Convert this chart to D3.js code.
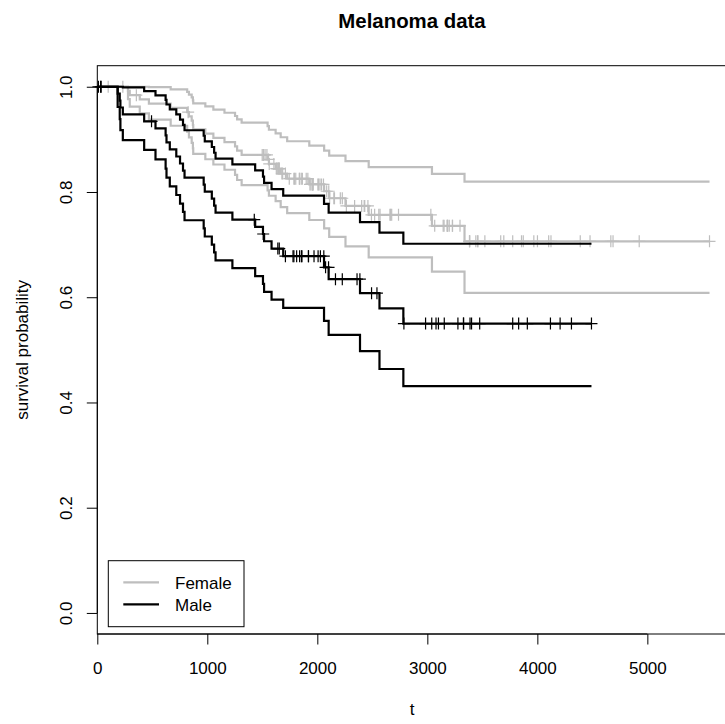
<!DOCTYPE html>
<html>
<head>
<meta charset="utf-8">
<script src="https://cdn.jsdelivr.net/npm/d3@7"></script>
<style>
  html, body { margin: 0; padding: 0; background: #ffffff; }
  svg { display: block; }
  text { font-family: "Liberation Sans", Arial, Helvetica, sans-serif; fill: #000; }
</style>
</head>
<body>
<svg id="chart" width="725" height="724"></svg>
<script>
// Kaplan-Meier survival estimates (melanoma deaths) with 95% log-type confidence limits.
// Each curve is a right-continuous step function: value holds from its time to the next.

// Female group
const femaleTimes = [0, 279, 295, 386, 469, 667, 817, 833, 858, 869, 872, 982, 1055, 1156, 1252,
  1271, 1312, 1548, 1560, 1621, 1667, 1726, 1927, 2062, 2108, 2256, 2467, 3042, 3338];
const femaleSurv = [1, 0.99200, 0.98400, 0.97593, 0.96787, 0.95981, 0.95174, 0.94361, 0.93547,
  0.92734, 0.91920, 0.91107, 0.90294, 0.89480, 0.88667, 0.87853, 0.87040, 0.86187, 0.85325,
  0.84445, 0.83507, 0.82536, 0.81436, 0.80143, 0.78807, 0.77348, 0.75666, 0.73564, 0.70622];
const femaleUpper = [1, 1, 1, 1, 0.99935, 0.99496, 0.99017, 0.98508, 0.97974, 0.97421, 0.96850,
  0.96265, 0.95668, 0.95058, 0.94439, 0.93809, 0.93173, 0.92508, 0.91829, 0.91133, 0.90399,
  0.89638, 0.88806, 0.87878, 0.86908, 0.85867, 0.84720, 0.83425, 0.81976];
const femaleLower = [1, 0.97651, 0.96225, 0.94939, 0.93738, 0.92590, 0.91480, 0.90388, 0.89320,
  0.88272, 0.87241, 0.86225, 0.85222, 0.84230, 0.83248, 0.82275, 0.81311, 0.80298, 0.79282,
  0.78248, 0.77141, 0.75996, 0.74677, 0.73088, 0.71461, 0.69674, 0.67580, 0.64869, 0.60841];
const femaleLastTime = 5565;
const femaleCensored = [99, 232, 355, 826, 1499, 1510, 1512, 1525, 1542, 1557, 1563, 1605, 1627,
  1634, 1641, 1648, 1652, 1654, 1678, 1685, 1710, 1745, 1787, 1793, 1804, 1836, 1839, 1854, 1864,
  1899, 1914, 1933, 1942, 1955, 1956, 1958, 1963, 2005, 2011, 2024, 2038, 2056, 2085, 2104, 2112,
  2150, 2156, 2209, 2227, 2264, 2339, 2403, 2426, 2431, 2460, 2492, 2521, 2559, 2570, 2660, 2666,
  2676, 2738, 3032, 3067, 3144, 3152, 3180, 3182, 3185, 3199, 3228, 3229, 3297, 3383, 3384, 3385,
  3441, 3458, 3459, 3523, 3667, 3695, 3776, 3856, 3872, 3968, 4001, 4103, 4124, 4390, 4479, 4668,
  4688, 4926, 5565];

// Male group
const maleTimes = [0, 185, 204, 210, 232, 426, 529, 621, 629, 659, 718, 752, 779, 793, 967, 977,
  1041, 1062, 1075, 1228, 1435, 1506, 1516, 1584, 1690, 2061, 2103, 2388, 2565, 2782];
const maleSurv = [1, 0.98684, 0.97368, 0.96053, 0.94737, 0.93421, 0.92086, 0.90751, 0.89417,
  0.88082, 0.86748, 0.85413, 0.84079, 0.82744, 0.81410, 0.80075, 0.78741, 0.77406, 0.76072,
  0.74737, 0.73378, 0.72019, 0.70634, 0.69249, 0.67807, 0.65688, 0.63423, 0.60780, 0.57886, 0.54992];
const maleUpper = [1, 1, 1, 1, 0.99893, 0.99164, 0.98368, 0.97519, 0.96629, 0.95703, 0.94748,
  0.93766, 0.92761, 0.91735, 0.90692, 0.89630, 0.88553, 0.87460, 0.86355, 0.85236, 0.84092,
  0.82934, 0.81751, 0.80555, 0.79315, 0.77756, 0.76094, 0.74262, 0.72275, 0.70168];
const maleLower = [1, 0.96155, 0.93836, 0.91774, 0.89848, 0.88010, 0.86205, 0.84453, 0.82743,
  0.81068, 0.79424, 0.77805, 0.76209, 0.74634, 0.73078, 0.71538, 0.70016, 0.68508, 0.67013,
  0.65531, 0.64029, 0.62540, 0.61029, 0.59530, 0.57969, 0.55493, 0.52862, 0.49746, 0.46362, 0.43098];
const maleLastTime = 4492;
const maleCensored = [10, 30, 35, 493, 1427, 1508, 1641, 1654, 1710, 1779, 1787, 1812, 1839, 1856,
  1860, 1919, 1920, 1970, 2007, 2028, 2059, 2075, 2102, 2165, 2227, 2361, 2387, 2493, 2542, 2787,
  2984, 3040, 3079, 3101, 3154, 3278, 3328, 3330, 3388, 3402, 3476, 3776, 3830, 3909, 4119, 4207,
  4310, 4492];

// Axis ticks and labels
const xTicks = [0, 1000, 2000, 3000, 4000, 5000];
const yTicks = [0, 0.2, 0.4, 0.6, 0.8, 1.0];
const legendLabels = ["Female", "Male"];
const groupColors = ["#bebebe", "#000000"];
const titleText = "Melanoma data";
const xLabel = "t";
const yLabel = "survival probability";

// ---- layout ----
const svg = d3.select("#chart");
const plot = { left: 97.3, right: 734, top: 65.7, bottom: 634 };
const xMax = femaleLastTime * 1.04;

const x = d3.scaleLinear().domain([0, xMax]).range([plot.left, plot.right]);
const y = d3.scaleLinear().domain([-0.04, 1.04]).range([plot.bottom, plot.top]);

const stepLine = d3.line()
  .x(d => x(d[0]))
  .y(d => y(d[1]))
  .curve(d3.curveStepAfter);

function stepPoints(times, values, lastTime) {
  const pts = times.map((t, i) => [t, values[i]]);
  pts.push([lastTime, values[values.length - 1]]);
  return pts;
}

function valueAt(times, values, t) {
  const i = d3.bisectRight(times, t) - 1;
  return values[Math.max(0, i)];
}

const groups = [
  { times: femaleTimes, surv: femaleSurv, upper: femaleUpper, lower: femaleLower,
    last: femaleLastTime, censored: femaleCensored, color: groupColors[0] },
  { times: maleTimes, surv: maleSurv, upper: maleUpper, lower: maleLower,
    last: maleLastTime, censored: maleCensored, color: groupColors[1] }
];

const curves = svg.append("g").attr("class", "curves");

groups.forEach(g => {
  const gg = curves.append("g");
  [g.upper, g.lower, g.surv].forEach(vals => {
    gg.append("path")
      .attr("d", stepLine(stepPoints(g.times, vals, g.last)))
      .attr("fill", "none")
      .attr("stroke", g.color)
      .attr("stroke-width", 2.2)
      .attr("stroke-linejoin", "miter")
      .attr("stroke-linecap", "butt");
  });
  // censoring marks on the estimate
  const half = 6;
  gg.selectAll("path.mark")
    .data(g.censored)
    .join("path")
    .attr("class", "mark")
    .attr("d", t => {
      const px = x(t), py = y(valueAt(g.times, g.surv, t));
      return `M${px - half},${py}H${px + half}M${px},${py - half}V${py + half}`;
    })
    .attr("fill", "none")
    .attr("stroke", g.color)
    .attr("stroke-width", 1.2);
});

// plot frame
svg.append("rect")
  .attr("x", plot.left).attr("y", plot.top)
  .attr("width", plot.right - plot.left).attr("height", plot.bottom - plot.top)
  .attr("fill", "none").attr("stroke", "#000").attr("stroke-width", 1);

// x axis
const xAxis = d3.axisBottom(x).tickValues(xTicks).tickSize(10.5).tickPadding(17.5)
  .tickFormat(d3.format("d"));
const gx = svg.append("g").attr("transform", `translate(0,${plot.bottom})`).call(xAxis);
gx.select(".domain").attr("d", `M${x(xTicks[0])},0H${x(xTicks[xTicks.length - 1])}`);
gx.selectAll("text").attr("font-size", 17).attr("font-family", null);
gx.selectAll("line").attr("stroke", "#000");

// y axis
const yAxis = d3.axisLeft(y).tickValues(yTicks).tickSize(10.5).tickFormat(d3.format(".1f"));
const gy = svg.append("g").attr("transform", `translate(${plot.left},0)`).call(yAxis);
gy.select(".domain").attr("d", `M0,${y(yTicks[0])}V${y(yTicks[yTicks.length - 1])}`);
gy.selectAll("line").attr("stroke", "#000");
gy.selectAll(".tick text")
  .attr("x", null).attr("dy", null)
  .attr("transform", `translate(${71.5 - plot.left},0) rotate(-90)`)
  .attr("text-anchor", "middle")
  .attr("font-size", 17).attr("font-family", null);
svg.selectAll(".tick text").style("fill", "#000");

// titles
svg.append("text")
  .attr("x", 412).attr("y", 28)
  .attr("text-anchor", "middle")
  .attr("font-size", 20.4).attr("font-weight", "bold")
  .text(titleText);
svg.append("text")
  .attr("x", 412).attr("y", 715)
  .attr("text-anchor", "middle")
  .attr("font-size", 17)
  .text(xLabel);
svg.append("text")
  .attr("transform", `translate(28,${(plot.top + plot.bottom) / 2}) rotate(-90)`)
  .attr("text-anchor", "middle")
  .attr("font-size", 17)
  .text(yLabel);

// legend
const legend = svg.append("g");
legend.append("rect")
  .attr("x", 108.3).attr("y", 560.7).attr("width", 135.7).attr("height", 66)
  .attr("fill", "#fff").attr("stroke", "#000").attr("stroke-width", 1);
legendLabels.forEach((lab, i) => {
  const ly = 582.3 + i * 22;
  legend.append("line")
    .attr("x1", 123.3).attr("x2", 159).attr("y1", ly).attr("y2", ly)
    .attr("stroke", groupColors[i]).attr("stroke-width", 2.2);
  legend.append("text")
    .attr("x", 175).attr("y", ly + 6.2)
    .attr("font-size", 17)
    .text(lab);
});
</script>
</body>
</html>
